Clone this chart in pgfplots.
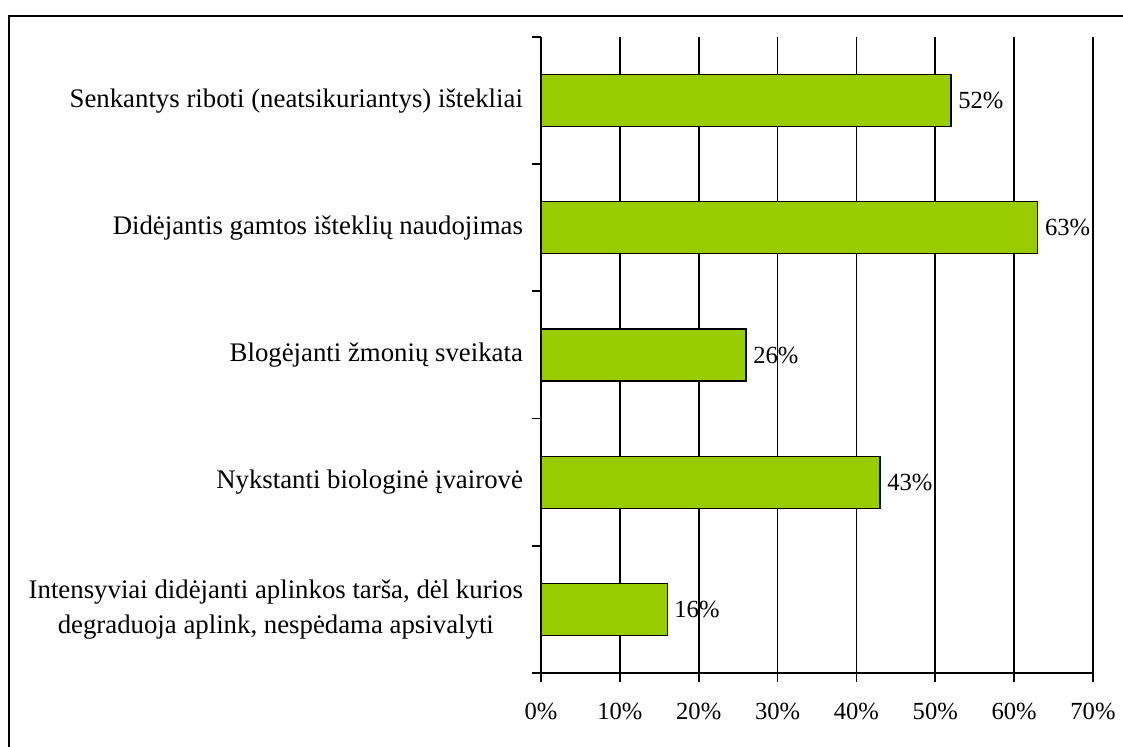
\documentclass[border=0pt]{standalone}
\usepackage{fontspec}
\setmainfont{Liberation Serif}
\usepackage{pgfplots}
\pgfplotsset{compat=1.18}
\definecolor{bargreen}{RGB}{153,204,0}
\begin{document}
\begin{tikzpicture}
\begin{axis}[
    at={(270.5pt,37pt)}, anchor=south west,
    scale only axis,
    width=276pt, height=318pt,
    xbar, bar width=26pt,
    xmin=0, xmax=70,
    ymin=-0.5, ymax=4.5,
    axis lines=left,
    axis line style={-, line width=0.9pt},
    xtick={0,10,...,70},
    xticklabel={\pgfmathprintnumber{\tick}\%},
    /pgf/number format/assume math mode=true,
    xticklabel style={font=\fontsize{12.3}{14}\selectfont, yshift=-7pt},
    tick align=outside,
    major tick length=4.5pt,
    tick style={line width=0.9pt, black},
    xmajorgrids,
    grid style={line width=0.9pt, black},
    ytick={0,1,2,3,4},
    yticklabels={
        {Intensyviai didėjanti aplinkos tarša, dėl kurios\\degraduoja aplink, nespėdama apsivalyti},
        {Nykstanti biologinė įvairovė},
        {Blogėjanti žmonių sveikata},
        {Didėjantis gamtos išteklių naudojimas},
        {Senkantys riboti (neatsikuriantys) ištekliai}},
    y tick style={draw=none},
    minor ytick={-0.5,0.5,...,4.5},
    minor y tick style={draw=black, line width=0.9pt},
    minor tick length=4.5pt,
    yticklabel style={font=\fontsize{13.4}{17.5}\selectfont, align=center, xshift=-1pt},
    nodes near coords={\pgfmathprintnumber{\pgfplotspointmeta}\%},
    nodes near coords style={font=\fontsize{12.3}{14}\selectfont, black},
    clip=false,
]
\addplot[fill=bargreen, draw=black, line width=0.6pt] coordinates {
    (16,0)
    (43,1)
    (26,2)
    (63,3)
    (52,4)
};
\end{axis}
\draw[line width=1.2pt] (4.5pt,-2pt) -- (4.5pt,365.5pt) -- (565pt,365.5pt);
\pgfresetboundingbox
\path[use as bounding box] (0,0) rectangle (561.5pt,373.5pt);
\end{tikzpicture}
\end{document}
